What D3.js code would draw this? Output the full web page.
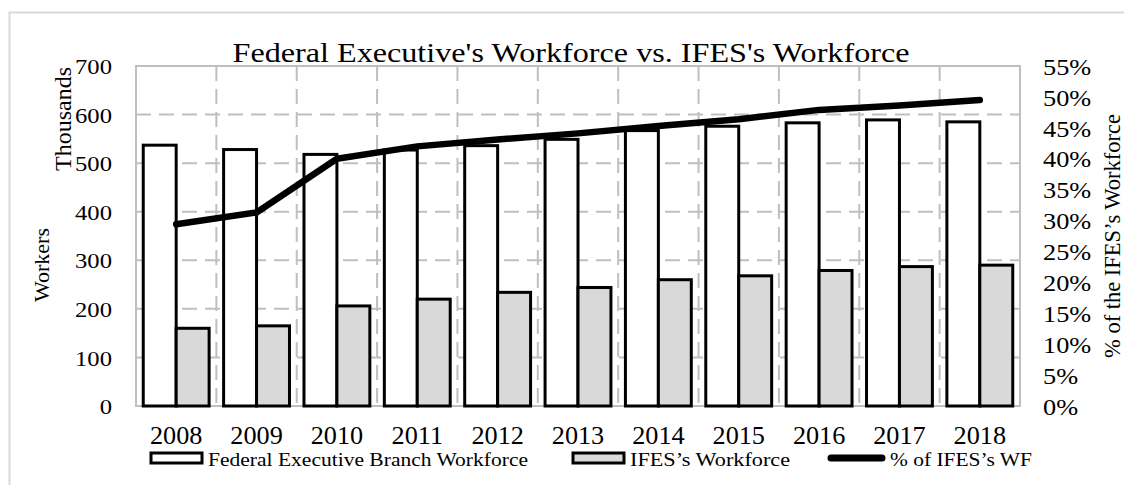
<!DOCTYPE html>
<html>
<head>
<meta charset="utf-8">
<script src="https://cdn.jsdelivr.net/npm/d3@7"></script>
<style>
  body { margin: 0; background: #fff; }
  text { font-family: "Liberation Serif", "Times New Roman", serif; fill: #000; }
</style>
</head>
<body>
<div id="chart"></div>
<script>
var years = ["2008", "2009", "2010", "2011", "2012", "2013", "2014", "2015", "2016", "2017", "2018"];
var federal = [537, 528, 518, 527, 536, 549, 567, 576, 583, 589, 585];
var ifes = [160, 165, 206, 220, 234, 244, 260, 268, 279, 287, 290];
var pctIfes = [29.4, 31.3, 40.0, 42.0, 43.1, 44.1, 45.3, 46.4, 47.9, 48.6, 49.5];
var leftTicks = [0, 100, 200, 300, 400, 500, 600, 700];
var rightTicks = [0, 5, 10, 15, 20, 25, 30, 35, 40, 45, 50, 55];

var width = 1124,
    height = 485,
    margin = {top: 66, right: 104, bottom: 79, left: 136};

var _grid = "#bfbfbf",
    _fill = "#d9d9d9";

// the source image is a bit wider than it is tall, so text is stretched sideways
function stretch(sel, k) {
    sel.each(function() {
        var w = this.getComputedTextLength();
        d3.select(this)
            .attr("textLength", w * k)
            .attr("lengthAdjust", "spacingAndGlyphs");
    });
}

function fitWidth(sel, w) {
    sel.attr("textLength", w).attr("lengthAdjust", "spacingAndGlyphs");
}

var svg = d3.select("#chart")
    .append("svg")
    .attr("width", width)
    .attr("height", height);

// outer frame (only top and left edges visible)
svg.append("path")
    .attr("d", "M9.5,485 V12.5 H1124")
    .style("fill", "none")
    .style("stroke", "#d9d9d9")
    .style("stroke-width", 2);

var x = d3.scaleBand()
    .domain(years)
    .range([margin.left, width - margin.right]);

var x1 = d3.scaleBand()
    .domain(["fed", "ifes"])
    .range([0, x.bandwidth()])
    .paddingOuter(0.22);

var y = d3.scaleLinear()
    .domain([0, 700])
    .range([height - margin.bottom, margin.top]);

var y2 = d3.scaleLinear()
    .domain([0, 55])
    .range([height - margin.bottom, margin.top]);

var g = svg.append("g");

// horizontal gridlines
g.selectAll(".hgrid")
    .data(leftTicks.slice(1, -1))
    .enter()
    .append("line")
    .attr("x1", margin.left)
    .attr("x2", width - margin.right)
    .attr("y1", function(d) { return y(d); })
    .attr("y2", function(d) { return y(d); })
    .style("stroke", _grid)
    .style("stroke-width", 2)
    .style("stroke-dasharray", "15,8");

// vertical gridlines between the years
g.selectAll(".vgrid")
    .data(years.slice(1))
    .enter()
    .append("line")
    .attr("x1", function(d) { return x(d); })
    .attr("x2", function(d) { return x(d); })
    .attr("y1", margin.top)
    .attr("y2", height - margin.bottom)
    .style("stroke", _grid)
    .style("stroke-width", 2)
    .style("stroke-dasharray", "15,8");

// plot frame
g.append("rect")
    .attr("x", margin.left)
    .attr("y", margin.top)
    .attr("width", width - margin.left - margin.right)
    .attr("height", height - margin.top - margin.bottom)
    .style("fill", "none")
    .style("stroke", _grid)
    .style("stroke-width", 2);

// bars
g.selectAll(".bar-fed")
    .data(years)
    .enter()
    .append("rect")
    .attr("x", function(d) { return x(d) + x1("fed"); })
    .attr("y", function(d, i) { return y(federal[i]); })
    .attr("width", x1.bandwidth())
    .attr("height", function(d, i) { return y(0) - y(federal[i]); })
    .style("fill", "#fff")
    .style("stroke", "#000")
    .style("stroke-width", 3);

g.selectAll(".bar-ifes")
    .data(years)
    .enter()
    .append("rect")
    .attr("x", function(d) { return x(d) + x1("ifes"); })
    .attr("y", function(d, i) { return y(ifes[i]); })
    .attr("width", x1.bandwidth())
    .attr("height", function(d, i) { return y(0) - y(ifes[i]); })
    .style("fill", _fill)
    .style("stroke", "#000")
    .style("stroke-width", 3);

// percentage line
var line = d3.line()
    .x(function(d, i) { return x(years[i]) + x.bandwidth() / 2; })
    .y(function(d) { return y2(d); });

g.append("path")
    .datum(pctIfes)
    .attr("d", line)
    .style("fill", "none")
    .style("stroke", "#000")
    .style("stroke-width", 6.5)
    .style("stroke-linecap", "round")
    .style("stroke-linejoin", "round");

// axes
var leftAxis = svg.append("g")
    .attr("transform", `translate(${margin.left},0)`)
    .call(d3.axisLeft(y).tickValues(leftTicks).tickSize(0).tickPadding(24));
leftAxis.select(".domain").remove();
leftAxis.selectAll("text").style("font-size", "22px").attr("dy", "0.35em")
    .call(stretch, 1.12);

var rightAxis = svg.append("g")
    .attr("transform", `translate(${width - margin.right},0)`)
    .call(d3.axisRight(y2).tickValues(rightTicks).tickSize(0).tickPadding(23)
        .tickFormat(function(d) { return d + "%"; }));
rightAxis.select(".domain").remove();
rightAxis.selectAll("text").style("font-size", "23.5px").attr("dy", "0.35em")
    .call(stretch, 1.12);

var bottomAxis = svg.append("g")
    .attr("transform", `translate(0,${height - margin.bottom})`)
    .call(d3.axisBottom(x).tickSize(0));
bottomAxis.select(".domain").remove();
bottomAxis.selectAll("text").style("font-size", "24.5px").attr("y", 38).attr("dy", 0)
    .call(stretch, 1.07);

// titles
svg.append("text")
    .attr("x", 571)
    .attr("y", 62)
    .style("text-anchor", "middle")
    .style("font-size", "27.5px")
    .text("Federal Executive's Workforce vs. IFES's Workforce")
    .call(fitWidth, 677);

svg.append("text")
    .attr("transform", "translate(71,119) rotate(-90)")
    .style("text-anchor", "middle")
    .style("font-size", "24px")
    .text("Thousands");

svg.append("text")
    .attr("transform", "translate(49,265) rotate(-90)")
    .style("text-anchor", "middle")
    .style("font-size", "22px")
    .text("Workers");

svg.append("text")
    .attr("transform", "translate(1120,236) rotate(-90)")
    .style("text-anchor", "middle")
    .style("font-size", "22.5px")
    .text("% of the IFES’s Workforce");

// legend
var legend = svg.append("g").attr("transform", "translate(0,458)");

legend.append("rect")
    .attr("x", 151).attr("y", -5).attr("width", 51).attr("height", 10)
    .style("fill", "#fff").style("stroke", "#000").style("stroke-width", 3);
legend.append("text")
    .attr("x", 208).attr("y", 7.5)
    .style("font-size", "19.5px")
    .text("Federal Executive Branch Workforce")
    .call(fitWidth, 320);

legend.append("rect")
    .attr("x", 573).attr("y", -5).attr("width", 51).attr("height", 10)
    .style("fill", _fill).style("stroke", "#000").style("stroke-width", 3);
legend.append("text")
    .attr("x", 630).attr("y", 7.5)
    .style("font-size", "19.5px")
    .text("IFES’s Workforce")
    .call(fitWidth, 160);

legend.append("line")
    .attr("x1", 831).attr("x2", 882).attr("y1", 0).attr("y2", 0)
    .style("stroke", "#000").style("stroke-width", 7).style("stroke-linecap", "round");
legend.append("text")
    .attr("x", 890).attr("y", 7.5)
    .style("font-size", "19.5px")
    .text("% of IFES’s WF")
    .call(fitWidth, 142);
</script>
</body>
</html>
